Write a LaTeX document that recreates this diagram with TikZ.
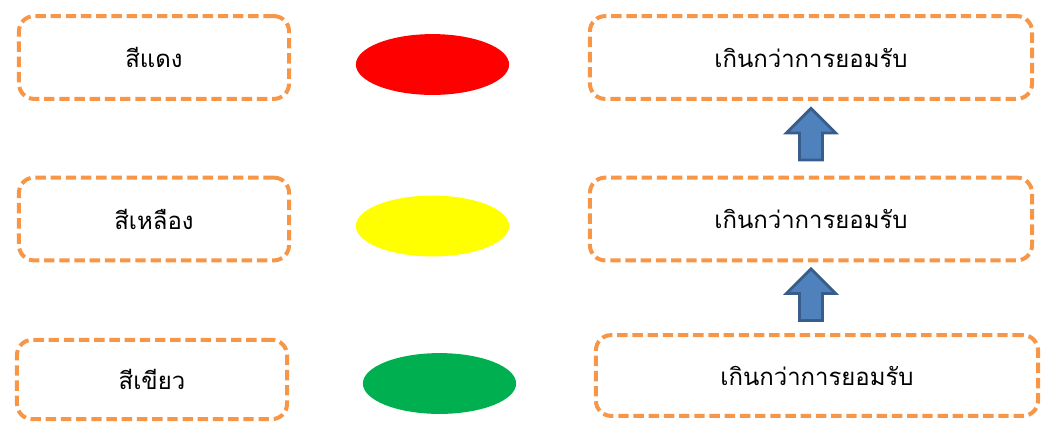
\documentclass[tikz,border=0pt]{standalone}
\usepackage{fontspec}
\newfontfamily\thaifont[Script=Thai]{Loma}
\usetikzlibrary{shapes.geometric, calc}

\definecolor{boxorange}{HTML}{F79646}
\definecolor{arrowfill}{HTML}{4F81BD}
\definecolor{arrowline}{HTML}{385D8A}
\definecolor{lightred}{HTML}{FF0000}
\definecolor{lightyellow}{HTML}{FFFF00}
\definecolor{lightgreen}{HTML}{00B050}

\begin{document}
\begin{tikzpicture}[
            x=0.025cm, y=0.025cm,
            every node/.style={font=\thaifont\fontsize{17}{20}\selectfont},
            colorbox/.style={
                    rectangle,
                    rounded corners=0.38cm,
                    draw=boxorange,
                    line width=0.1cm,
                    dash pattern=on 0.26cm off 0.12cm,
                    minimum width=6.75cm,
                    minimum height=2.07cm,
                    align=center
                },
            levelbox/.style={
                    colorbox,
                    minimum width=11.05cm
                },
            lamp/.style={
                    ellipse,
                    minimum width=3.83cm,
                    minimum height=1.52cm
                },
            uparrow/.style={
                    fill=arrowfill,
                    draw=arrowline,
                    line width=0.07cm,
                    line join=miter
                }
            ]
            \useasboundingbox (0,0) rectangle (1048,-424);

            % กล่องสี
            \node (daeng) [colorbox] at (154,-57.5) {สีแดง};
            \node (lueang) [colorbox] at (154,-219) {สีเหลือง};
            \node (khiao) [colorbox, minimum height=1.98cm] at (152,-379.5) {สีเขียว};

            % วงรีสี
            \node (lampdaeng) [lamp, fill=lightred] at (432.5,-64.5) {};
            \node (lamplueang) [lamp, fill=lightyellow] at (432.5,-226) {};
            \node (lampkhiao) [lamp, fill=lightgreen] at (439.5,-383.5) {};

            % กล่องระดับ
            \node (sung) [levelbox] at (811,-57.5) {เกินกว่าการยอมรับ};
            \node (klang) [levelbox] at (811,-219) {เกินกว่าการยอมรับ};
            \node (tam) [levelbox, minimum height=2.02cm] at (817,-375.5) {เกินกว่าการยอมรับ};

            % ลูกศร
            \draw [uparrow, shift={($(sung.south)+(0,-7.5)$)}]
                (0,0) -- (24.5,-24.5) -- (11.5,-24.5) -- (11.5,-51.5)
                -- (-11.5,-51.5) -- (-11.5,-24.5) -- (-24.5,-24.5) -- cycle;
            \draw [uparrow, shift={($(klang.south)+(0,-6.5)$)}]
                (0,0) -- (24.5,-24.5) -- (11.5,-24.5) -- (11.5,-51.5)
                -- (-11.5,-51.5) -- (-11.5,-24.5) -- (-24.5,-24.5) -- cycle;

        \end{tikzpicture}
\end{document}
